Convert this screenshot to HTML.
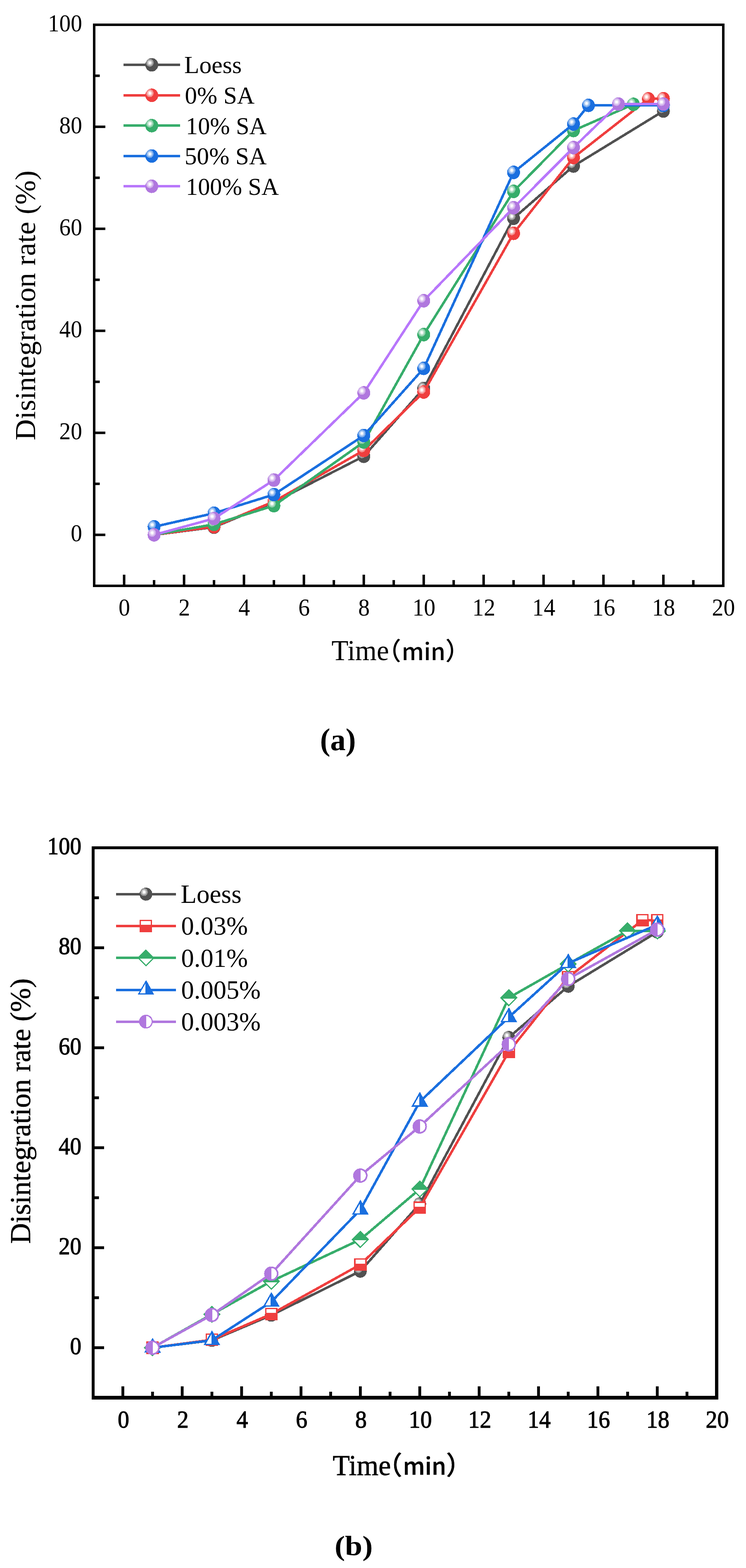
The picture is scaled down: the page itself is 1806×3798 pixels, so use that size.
<!DOCTYPE html><html><head><meta charset="utf-8"><title>Disintegration rate</title>
<style>html,body{margin:0;padding:0;background:#fff;width:1806px;height:3798px;overflow:hidden}svg{display:block}.t{font-family:"Liberation Serif","Times New Roman",serif;fill:#000}.c{font-family:"Noto Sans CJK SC",sans-serif;font-weight:500;fill:#000}</style></head><body>
<svg width="1806" height="3798" viewBox="0 0 1806 3798">
<rect width="1806" height="3798" fill="#fff"/>
<g id="chartA">
<rect x="231" y="1292.5" width="24" height="6" fill="#000"/>
<rect x="231" y="1045.4" width="24" height="6" fill="#000"/>
<rect x="231" y="798.3" width="24" height="6" fill="#000"/>
<rect x="231" y="551.2" width="24" height="6" fill="#000"/>
<rect x="231" y="304.1" width="24" height="6" fill="#000"/>
<rect x="231" y="1168.9" width="10.5" height="6" fill="#000"/>
<rect x="231" y="921.8" width="10.5" height="6" fill="#000"/>
<rect x="231" y="674.7" width="10.5" height="6" fill="#000"/>
<rect x="231" y="427.6" width="10.5" height="6" fill="#000"/>
<rect x="231" y="180.5" width="10.5" height="6" fill="#000"/>
<rect x="297.5" y="1392" width="6" height="24" fill="#000"/>
<rect x="442.6" y="1392" width="6" height="24" fill="#000"/>
<rect x="587.6" y="1392" width="6" height="24" fill="#000"/>
<rect x="732.7" y="1392" width="6" height="24" fill="#000"/>
<rect x="877.7" y="1392" width="6" height="24" fill="#000"/>
<rect x="1022.8" y="1392" width="6" height="24" fill="#000"/>
<rect x="1167.8" y="1392" width="6" height="24" fill="#000"/>
<rect x="1312.9" y="1392" width="6" height="24" fill="#000"/>
<rect x="1457.9" y="1392" width="6" height="24" fill="#000"/>
<rect x="1603.0" y="1392" width="6" height="24" fill="#000"/>
<rect x="1748.0" y="1392" width="6" height="24" fill="#000"/>
<rect x="370.0" y="1405" width="6" height="11" fill="#000"/>
<rect x="515.1" y="1405" width="6" height="11" fill="#000"/>
<rect x="660.1" y="1405" width="6" height="11" fill="#000"/>
<rect x="805.2" y="1405" width="6" height="11" fill="#000"/>
<rect x="950.2" y="1405" width="6" height="11" fill="#000"/>
<rect x="1095.3" y="1405" width="6" height="11" fill="#000"/>
<rect x="1240.3" y="1405" width="6" height="11" fill="#000"/>
<rect x="1385.4" y="1405" width="6" height="11" fill="#000"/>
<rect x="1530.4" y="1405" width="6" height="11" fill="#000"/>
<rect x="1675.5" y="1405" width="6" height="11" fill="#000"/>
<g shape-rendering="crispEdges">
<polyline points="373.0,1295.5 518.1,1276.9 663.1,1216.4 880.7,1105.2 1025.8,940.9 1243.3,528.7 1388.4,402.2 1606.0,269.0" fill="none" stroke="#515151" stroke-width="6" stroke-linejoin="round"/>
<ellipse cx="373.0" cy="1295.5" rx="15.6" ry="16.4" fill="#515151"/><ellipse cx="368.4" cy="1290.5" rx="9.2" ry="9.7" fill="#9a9a9a"/><ellipse cx="368.4" cy="1290.5" rx="6.1" ry="6.5" fill="#cbcbcb"/><ellipse cx="368.4" cy="1290.5" rx="3.2" ry="3.5" fill="#fcfcfc"/>
<ellipse cx="518.1" cy="1276.9" rx="15.6" ry="16.4" fill="#515151"/><ellipse cx="513.5" cy="1271.9" rx="9.2" ry="9.7" fill="#9a9a9a"/><ellipse cx="513.5" cy="1271.9" rx="6.1" ry="6.5" fill="#cbcbcb"/><ellipse cx="513.5" cy="1271.9" rx="3.2" ry="3.5" fill="#fcfcfc"/>
<ellipse cx="663.1" cy="1216.4" rx="15.6" ry="16.4" fill="#515151"/><ellipse cx="658.5" cy="1211.4" rx="9.2" ry="9.7" fill="#9a9a9a"/><ellipse cx="658.5" cy="1211.4" rx="6.1" ry="6.5" fill="#cbcbcb"/><ellipse cx="658.5" cy="1211.4" rx="3.2" ry="3.5" fill="#fcfcfc"/>
<ellipse cx="880.7" cy="1105.2" rx="15.6" ry="16.4" fill="#515151"/><ellipse cx="876.1" cy="1100.2" rx="9.2" ry="9.7" fill="#9a9a9a"/><ellipse cx="876.1" cy="1100.2" rx="6.1" ry="6.5" fill="#cbcbcb"/><ellipse cx="876.1" cy="1100.2" rx="3.2" ry="3.5" fill="#fcfcfc"/>
<ellipse cx="1025.8" cy="940.9" rx="15.6" ry="16.4" fill="#515151"/><ellipse cx="1021.2" cy="935.9" rx="9.2" ry="9.7" fill="#9a9a9a"/><ellipse cx="1021.2" cy="935.9" rx="6.1" ry="6.5" fill="#cbcbcb"/><ellipse cx="1021.2" cy="935.9" rx="3.2" ry="3.5" fill="#fcfcfc"/>
<ellipse cx="1243.3" cy="528.7" rx="15.6" ry="16.4" fill="#515151"/><ellipse cx="1238.7" cy="523.7" rx="9.2" ry="9.7" fill="#9a9a9a"/><ellipse cx="1238.7" cy="523.7" rx="6.1" ry="6.5" fill="#cbcbcb"/><ellipse cx="1238.7" cy="523.7" rx="3.2" ry="3.5" fill="#fcfcfc"/>
<ellipse cx="1388.4" cy="402.2" rx="15.6" ry="16.4" fill="#515151"/><ellipse cx="1383.8" cy="397.2" rx="9.2" ry="9.7" fill="#9a9a9a"/><ellipse cx="1383.8" cy="397.2" rx="6.1" ry="6.5" fill="#cbcbcb"/><ellipse cx="1383.8" cy="397.2" rx="3.2" ry="3.5" fill="#fcfcfc"/>
<ellipse cx="1606.0" cy="269.0" rx="15.6" ry="16.4" fill="#515151"/><ellipse cx="1601.4" cy="264.0" rx="9.2" ry="9.7" fill="#9a9a9a"/><ellipse cx="1601.4" cy="264.0" rx="6.1" ry="6.5" fill="#cbcbcb"/><ellipse cx="1601.4" cy="264.0" rx="3.2" ry="3.5" fill="#fcfcfc"/>
<polyline points="373.0,1295.5 518.1,1275.7 663.1,1214.8 880.7,1091.0 1025.8,949.5 1243.3,565.2 1388.4,381.6 1569.7,239.4 1606.0,239.1" fill="none" stroke="#ef3e3e" stroke-width="6" stroke-linejoin="round"/>
<ellipse cx="373.0" cy="1295.5" rx="15.6" ry="16.4" fill="#ef3e3e"/><ellipse cx="368.4" cy="1290.5" rx="9.2" ry="9.7" fill="#f68f8f"/><ellipse cx="368.4" cy="1290.5" rx="6.1" ry="6.5" fill="#fac5c5"/><ellipse cx="368.4" cy="1290.5" rx="3.2" ry="3.5" fill="#fffbfb"/>
<ellipse cx="518.1" cy="1275.7" rx="15.6" ry="16.4" fill="#ef3e3e"/><ellipse cx="513.5" cy="1270.7" rx="9.2" ry="9.7" fill="#f68f8f"/><ellipse cx="513.5" cy="1270.7" rx="6.1" ry="6.5" fill="#fac5c5"/><ellipse cx="513.5" cy="1270.7" rx="3.2" ry="3.5" fill="#fffbfb"/>
<ellipse cx="663.1" cy="1214.8" rx="15.6" ry="16.4" fill="#ef3e3e"/><ellipse cx="658.5" cy="1209.8" rx="9.2" ry="9.7" fill="#f68f8f"/><ellipse cx="658.5" cy="1209.8" rx="6.1" ry="6.5" fill="#fac5c5"/><ellipse cx="658.5" cy="1209.8" rx="3.2" ry="3.5" fill="#fffbfb"/>
<ellipse cx="880.7" cy="1091.0" rx="15.6" ry="16.4" fill="#ef3e3e"/><ellipse cx="876.1" cy="1086.0" rx="9.2" ry="9.7" fill="#f68f8f"/><ellipse cx="876.1" cy="1086.0" rx="6.1" ry="6.5" fill="#fac5c5"/><ellipse cx="876.1" cy="1086.0" rx="3.2" ry="3.5" fill="#fffbfb"/>
<ellipse cx="1025.8" cy="949.5" rx="15.6" ry="16.4" fill="#ef3e3e"/><ellipse cx="1021.2" cy="944.5" rx="9.2" ry="9.7" fill="#f68f8f"/><ellipse cx="1021.2" cy="944.5" rx="6.1" ry="6.5" fill="#fac5c5"/><ellipse cx="1021.2" cy="944.5" rx="3.2" ry="3.5" fill="#fffbfb"/>
<ellipse cx="1243.3" cy="565.2" rx="15.6" ry="16.4" fill="#ef3e3e"/><ellipse cx="1238.7" cy="560.2" rx="9.2" ry="9.7" fill="#f68f8f"/><ellipse cx="1238.7" cy="560.2" rx="6.1" ry="6.5" fill="#fac5c5"/><ellipse cx="1238.7" cy="560.2" rx="3.2" ry="3.5" fill="#fffbfb"/>
<ellipse cx="1388.4" cy="381.6" rx="15.6" ry="16.4" fill="#ef3e3e"/><ellipse cx="1383.8" cy="376.6" rx="9.2" ry="9.7" fill="#f68f8f"/><ellipse cx="1383.8" cy="376.6" rx="6.1" ry="6.5" fill="#fac5c5"/><ellipse cx="1383.8" cy="376.6" rx="3.2" ry="3.5" fill="#fffbfb"/>
<ellipse cx="1569.7" cy="239.4" rx="15.6" ry="16.4" fill="#ef3e3e"/><ellipse cx="1565.1" cy="234.4" rx="9.2" ry="9.7" fill="#f68f8f"/><ellipse cx="1565.1" cy="234.4" rx="6.1" ry="6.5" fill="#fac5c5"/><ellipse cx="1565.1" cy="234.4" rx="3.2" ry="3.5" fill="#fffbfb"/>
<ellipse cx="1606.0" cy="239.1" rx="15.6" ry="16.4" fill="#ef3e3e"/><ellipse cx="1601.4" cy="234.1" rx="9.2" ry="9.7" fill="#f68f8f"/><ellipse cx="1601.4" cy="234.1" rx="6.1" ry="6.5" fill="#fac5c5"/><ellipse cx="1601.4" cy="234.1" rx="3.2" ry="3.5" fill="#fffbfb"/>
<polyline points="373.0,1295.5 518.1,1270.0 663.1,1224.8 880.7,1070.6 1025.8,810.4 1243.3,463.5 1388.4,316.2 1533.4,252.7" fill="none" stroke="#37ad6b" stroke-width="6" stroke-linejoin="round"/>
<ellipse cx="373.0" cy="1295.5" rx="15.6" ry="16.4" fill="#37ad6b"/><ellipse cx="368.4" cy="1290.5" rx="9.2" ry="9.7" fill="#8bcfa9"/><ellipse cx="368.4" cy="1290.5" rx="6.1" ry="6.5" fill="#c3e6d3"/><ellipse cx="368.4" cy="1290.5" rx="3.2" ry="3.5" fill="#fbfdfc"/>
<ellipse cx="518.1" cy="1270.0" rx="15.6" ry="16.4" fill="#37ad6b"/><ellipse cx="513.5" cy="1265.0" rx="9.2" ry="9.7" fill="#8bcfa9"/><ellipse cx="513.5" cy="1265.0" rx="6.1" ry="6.5" fill="#c3e6d3"/><ellipse cx="513.5" cy="1265.0" rx="3.2" ry="3.5" fill="#fbfdfc"/>
<ellipse cx="663.1" cy="1224.8" rx="15.6" ry="16.4" fill="#37ad6b"/><ellipse cx="658.5" cy="1219.8" rx="9.2" ry="9.7" fill="#8bcfa9"/><ellipse cx="658.5" cy="1219.8" rx="6.1" ry="6.5" fill="#c3e6d3"/><ellipse cx="658.5" cy="1219.8" rx="3.2" ry="3.5" fill="#fbfdfc"/>
<ellipse cx="880.7" cy="1070.6" rx="15.6" ry="16.4" fill="#37ad6b"/><ellipse cx="876.1" cy="1065.6" rx="9.2" ry="9.7" fill="#8bcfa9"/><ellipse cx="876.1" cy="1065.6" rx="6.1" ry="6.5" fill="#c3e6d3"/><ellipse cx="876.1" cy="1065.6" rx="3.2" ry="3.5" fill="#fbfdfc"/>
<ellipse cx="1025.8" cy="810.4" rx="15.6" ry="16.4" fill="#37ad6b"/><ellipse cx="1021.2" cy="805.4" rx="9.2" ry="9.7" fill="#8bcfa9"/><ellipse cx="1021.2" cy="805.4" rx="6.1" ry="6.5" fill="#c3e6d3"/><ellipse cx="1021.2" cy="805.4" rx="3.2" ry="3.5" fill="#fbfdfc"/>
<ellipse cx="1243.3" cy="463.5" rx="15.6" ry="16.4" fill="#37ad6b"/><ellipse cx="1238.7" cy="458.5" rx="9.2" ry="9.7" fill="#8bcfa9"/><ellipse cx="1238.7" cy="458.5" rx="6.1" ry="6.5" fill="#c3e6d3"/><ellipse cx="1238.7" cy="458.5" rx="3.2" ry="3.5" fill="#fbfdfc"/>
<ellipse cx="1388.4" cy="316.2" rx="15.6" ry="16.4" fill="#37ad6b"/><ellipse cx="1383.8" cy="311.2" rx="9.2" ry="9.7" fill="#8bcfa9"/><ellipse cx="1383.8" cy="311.2" rx="6.1" ry="6.5" fill="#c3e6d3"/><ellipse cx="1383.8" cy="311.2" rx="3.2" ry="3.5" fill="#fbfdfc"/>
<ellipse cx="1533.4" cy="252.7" rx="15.6" ry="16.4" fill="#37ad6b"/><ellipse cx="1528.8" cy="247.7" rx="9.2" ry="9.7" fill="#8bcfa9"/><ellipse cx="1528.8" cy="247.7" rx="6.1" ry="6.5" fill="#c3e6d3"/><ellipse cx="1528.8" cy="247.7" rx="3.2" ry="3.5" fill="#fbfdfc"/>
<polyline points="373.0,1275.9 518.1,1243.1 663.1,1197.9 880.7,1054.9 1025.8,892.2 1243.3,417.5 1388.4,300.4 1424.6,255.2 1606.0,255.2" fill="none" stroke="#1a6fdf" stroke-width="6" stroke-linejoin="round"/>
<ellipse cx="373.0" cy="1275.9" rx="15.6" ry="16.4" fill="#1a6fdf"/><ellipse cx="368.4" cy="1270.9" rx="9.2" ry="9.7" fill="#7aabec"/><ellipse cx="368.4" cy="1270.9" rx="6.1" ry="6.5" fill="#bad4f5"/><ellipse cx="368.4" cy="1270.9" rx="3.2" ry="3.5" fill="#fafcfe"/>
<ellipse cx="518.1" cy="1243.1" rx="15.6" ry="16.4" fill="#1a6fdf"/><ellipse cx="513.5" cy="1238.1" rx="9.2" ry="9.7" fill="#7aabec"/><ellipse cx="513.5" cy="1238.1" rx="6.1" ry="6.5" fill="#bad4f5"/><ellipse cx="513.5" cy="1238.1" rx="3.2" ry="3.5" fill="#fafcfe"/>
<ellipse cx="663.1" cy="1197.9" rx="15.6" ry="16.4" fill="#1a6fdf"/><ellipse cx="658.5" cy="1192.9" rx="9.2" ry="9.7" fill="#7aabec"/><ellipse cx="658.5" cy="1192.9" rx="6.1" ry="6.5" fill="#bad4f5"/><ellipse cx="658.5" cy="1192.9" rx="3.2" ry="3.5" fill="#fafcfe"/>
<ellipse cx="880.7" cy="1054.9" rx="15.6" ry="16.4" fill="#1a6fdf"/><ellipse cx="876.1" cy="1049.9" rx="9.2" ry="9.7" fill="#7aabec"/><ellipse cx="876.1" cy="1049.9" rx="6.1" ry="6.5" fill="#bad4f5"/><ellipse cx="876.1" cy="1049.9" rx="3.2" ry="3.5" fill="#fafcfe"/>
<ellipse cx="1025.8" cy="892.2" rx="15.6" ry="16.4" fill="#1a6fdf"/><ellipse cx="1021.2" cy="887.2" rx="9.2" ry="9.7" fill="#7aabec"/><ellipse cx="1021.2" cy="887.2" rx="6.1" ry="6.5" fill="#bad4f5"/><ellipse cx="1021.2" cy="887.2" rx="3.2" ry="3.5" fill="#fafcfe"/>
<ellipse cx="1243.3" cy="417.5" rx="15.6" ry="16.4" fill="#1a6fdf"/><ellipse cx="1238.7" cy="412.5" rx="9.2" ry="9.7" fill="#7aabec"/><ellipse cx="1238.7" cy="412.5" rx="6.1" ry="6.5" fill="#bad4f5"/><ellipse cx="1238.7" cy="412.5" rx="3.2" ry="3.5" fill="#fafcfe"/>
<ellipse cx="1388.4" cy="300.4" rx="15.6" ry="16.4" fill="#1a6fdf"/><ellipse cx="1383.8" cy="295.4" rx="9.2" ry="9.7" fill="#7aabec"/><ellipse cx="1383.8" cy="295.4" rx="6.1" ry="6.5" fill="#bad4f5"/><ellipse cx="1383.8" cy="295.4" rx="3.2" ry="3.5" fill="#fafcfe"/>
<ellipse cx="1424.6" cy="255.2" rx="15.6" ry="16.4" fill="#1a6fdf"/><ellipse cx="1420.0" cy="250.2" rx="9.2" ry="9.7" fill="#7aabec"/><ellipse cx="1420.0" cy="250.2" rx="6.1" ry="6.5" fill="#bad4f5"/><ellipse cx="1420.0" cy="250.2" rx="3.2" ry="3.5" fill="#fafcfe"/>
<ellipse cx="1606.0" cy="255.2" rx="15.6" ry="16.4" fill="#1a6fdf"/><ellipse cx="1601.4" cy="250.2" rx="9.2" ry="9.7" fill="#7aabec"/><ellipse cx="1601.4" cy="250.2" rx="6.1" ry="6.5" fill="#bad4f5"/><ellipse cx="1601.4" cy="250.2" rx="3.2" ry="3.5" fill="#fafcfe"/>
<polyline points="373.0,1295.5 518.1,1255.9 663.1,1162.8 880.7,951.6 1025.8,728.4 1243.3,503.2 1388.4,357.4 1497.2,252.0 1606.0,252.0" fill="none" stroke="#b877fb" stroke-width="6" stroke-linejoin="round"/>
<ellipse cx="373.0" cy="1295.5" rx="15.6" ry="16.4" fill="#b077de"/><ellipse cx="368.4" cy="1290.5" rx="9.2" ry="9.7" fill="#d1b0ec"/><ellipse cx="368.4" cy="1290.5" rx="6.1" ry="6.5" fill="#e7d6f5"/><ellipse cx="368.4" cy="1290.5" rx="3.2" ry="3.5" fill="#fdfcfe"/>
<ellipse cx="518.1" cy="1255.9" rx="15.6" ry="16.4" fill="#b077de"/><ellipse cx="513.5" cy="1250.9" rx="9.2" ry="9.7" fill="#d1b0ec"/><ellipse cx="513.5" cy="1250.9" rx="6.1" ry="6.5" fill="#e7d6f5"/><ellipse cx="513.5" cy="1250.9" rx="3.2" ry="3.5" fill="#fdfcfe"/>
<ellipse cx="663.1" cy="1162.8" rx="15.6" ry="16.4" fill="#b077de"/><ellipse cx="658.5" cy="1157.8" rx="9.2" ry="9.7" fill="#d1b0ec"/><ellipse cx="658.5" cy="1157.8" rx="6.1" ry="6.5" fill="#e7d6f5"/><ellipse cx="658.5" cy="1157.8" rx="3.2" ry="3.5" fill="#fdfcfe"/>
<ellipse cx="880.7" cy="951.6" rx="15.6" ry="16.4" fill="#b077de"/><ellipse cx="876.1" cy="946.6" rx="9.2" ry="9.7" fill="#d1b0ec"/><ellipse cx="876.1" cy="946.6" rx="6.1" ry="6.5" fill="#e7d6f5"/><ellipse cx="876.1" cy="946.6" rx="3.2" ry="3.5" fill="#fdfcfe"/>
<ellipse cx="1025.8" cy="728.4" rx="15.6" ry="16.4" fill="#b077de"/><ellipse cx="1021.2" cy="723.4" rx="9.2" ry="9.7" fill="#d1b0ec"/><ellipse cx="1021.2" cy="723.4" rx="6.1" ry="6.5" fill="#e7d6f5"/><ellipse cx="1021.2" cy="723.4" rx="3.2" ry="3.5" fill="#fdfcfe"/>
<ellipse cx="1243.3" cy="503.2" rx="15.6" ry="16.4" fill="#b077de"/><ellipse cx="1238.7" cy="498.2" rx="9.2" ry="9.7" fill="#d1b0ec"/><ellipse cx="1238.7" cy="498.2" rx="6.1" ry="6.5" fill="#e7d6f5"/><ellipse cx="1238.7" cy="498.2" rx="3.2" ry="3.5" fill="#fdfcfe"/>
<ellipse cx="1388.4" cy="357.4" rx="15.6" ry="16.4" fill="#b077de"/><ellipse cx="1383.8" cy="352.4" rx="9.2" ry="9.7" fill="#d1b0ec"/><ellipse cx="1383.8" cy="352.4" rx="6.1" ry="6.5" fill="#e7d6f5"/><ellipse cx="1383.8" cy="352.4" rx="3.2" ry="3.5" fill="#fdfcfe"/>
<ellipse cx="1497.2" cy="252.0" rx="15.6" ry="16.4" fill="#b077de"/><ellipse cx="1492.6" cy="247.0" rx="9.2" ry="9.7" fill="#d1b0ec"/><ellipse cx="1492.6" cy="247.0" rx="6.1" ry="6.5" fill="#e7d6f5"/><ellipse cx="1492.6" cy="247.0" rx="3.2" ry="3.5" fill="#fdfcfe"/>
<ellipse cx="1606.0" cy="252.0" rx="15.6" ry="16.4" fill="#b077de"/><ellipse cx="1601.4" cy="247.0" rx="9.2" ry="9.7" fill="#d1b0ec"/><ellipse cx="1601.4" cy="247.0" rx="6.1" ry="6.5" fill="#e7d6f5"/><ellipse cx="1601.4" cy="247.0" rx="3.2" ry="3.5" fill="#fdfcfe"/>
</g>
<rect x="228" y="60" width="1523" height="1359" fill="none" stroke="#000" stroke-width="6"/>
<text class="t" transform="translate(198.8,1311.0) scale(0.92,1)" font-size="60" text-anchor="end">0</text>
<text class="t" transform="translate(198.8,1063.9) scale(0.92,1)" font-size="60" text-anchor="end">20</text>
<text class="t" transform="translate(198.8,816.8) scale(0.92,1)" font-size="60" text-anchor="end">40</text>
<text class="t" transform="translate(198.8,569.7) scale(0.92,1)" font-size="60" text-anchor="end">60</text>
<text class="t" transform="translate(198.8,322.6) scale(0.92,1)" font-size="60" text-anchor="end">80</text>
<text class="t" transform="translate(198.8,75.5) scale(0.92,1)" font-size="60" text-anchor="end">100</text>
<text class="t" transform="translate(301.0,1490.5) scale(0.93,1)" font-size="60" text-anchor="middle">0</text>
<text class="t" transform="translate(446.1,1490.5) scale(0.93,1)" font-size="60" text-anchor="middle">2</text>
<text class="t" transform="translate(591.1,1490.5) scale(0.93,1)" font-size="60" text-anchor="middle">4</text>
<text class="t" transform="translate(736.2,1490.5) scale(0.93,1)" font-size="60" text-anchor="middle">6</text>
<text class="t" transform="translate(881.2,1490.5) scale(0.93,1)" font-size="60" text-anchor="middle">8</text>
<text class="t" transform="translate(1026.3,1490.5) scale(0.93,1)" font-size="60" text-anchor="middle">10</text>
<text class="t" transform="translate(1171.3,1490.5) scale(0.93,1)" font-size="60" text-anchor="middle">12</text>
<text class="t" transform="translate(1316.4,1490.5) scale(0.93,1)" font-size="60" text-anchor="middle">14</text>
<text class="t" transform="translate(1461.4,1490.5) scale(0.93,1)" font-size="60" text-anchor="middle">16</text>
<text class="t" transform="translate(1606.5,1490.5) scale(0.93,1)" font-size="60" text-anchor="middle">18</text>
<text class="t" transform="translate(1751.5,1490.5) scale(0.93,1)" font-size="60" text-anchor="middle">20</text>
<g shape-rendering="crispEdges">
<rect x="298.5" y="154.0" width="137.5" height="6" fill="#515151"/>
<ellipse cx="367.4" cy="157.0" rx="15.6" ry="16.4" fill="#515151"/><ellipse cx="362.8" cy="152.0" rx="9.2" ry="9.7" fill="#9a9a9a"/><ellipse cx="362.8" cy="152.0" rx="6.1" ry="6.5" fill="#cbcbcb"/><ellipse cx="362.8" cy="152.0" rx="3.2" ry="3.5" fill="#fcfcfc"/>
</g>
<text class="t" transform="translate(446.1,177.3) scale(0.994,1)" font-size="60">Loess</text>
<g shape-rendering="crispEdges">
<rect x="298.5" y="227.8" width="137.5" height="6" fill="#ef3e3e"/>
<ellipse cx="367.4" cy="230.8" rx="15.6" ry="16.4" fill="#ef3e3e"/><ellipse cx="362.8" cy="225.8" rx="9.2" ry="9.7" fill="#f68f8f"/><ellipse cx="362.8" cy="225.8" rx="6.1" ry="6.5" fill="#fac5c5"/><ellipse cx="362.8" cy="225.8" rx="3.2" ry="3.5" fill="#fffbfb"/>
</g>
<text class="t" transform="translate(447.6,251.1) scale(0.983,1)" font-size="60">0% SA</text>
<g shape-rendering="crispEdges">
<rect x="298.5" y="301.3" width="137.5" height="6" fill="#37ad6b"/>
<ellipse cx="367.4" cy="304.3" rx="15.6" ry="16.4" fill="#37ad6b"/><ellipse cx="362.8" cy="299.3" rx="9.2" ry="9.7" fill="#8bcfa9"/><ellipse cx="362.8" cy="299.3" rx="6.1" ry="6.5" fill="#c3e6d3"/><ellipse cx="362.8" cy="299.3" rx="3.2" ry="3.5" fill="#fbfdfc"/>
</g>
<text class="t" transform="translate(450.1,324.6) scale(0.969,1)" font-size="60">10% SA</text>
<g shape-rendering="crispEdges">
<rect x="298.5" y="374.9" width="137.5" height="6" fill="#1a6fdf"/>
<ellipse cx="367.4" cy="377.9" rx="15.6" ry="16.4" fill="#1a6fdf"/><ellipse cx="362.8" cy="372.9" rx="9.2" ry="9.7" fill="#7aabec"/><ellipse cx="362.8" cy="372.9" rx="6.1" ry="6.5" fill="#bad4f5"/><ellipse cx="362.8" cy="372.9" rx="3.2" ry="3.5" fill="#fafcfe"/>
</g>
<text class="t" transform="translate(447.1,398.2) scale(0.984,1)" font-size="60">50% SA</text>
<g shape-rendering="crispEdges">
<rect x="298.5" y="448.2" width="137.5" height="6" fill="#b877fb"/>
<ellipse cx="367.4" cy="451.2" rx="15.6" ry="16.4" fill="#b077de"/><ellipse cx="362.8" cy="446.2" rx="9.2" ry="9.7" fill="#d1b0ec"/><ellipse cx="362.8" cy="446.2" rx="6.1" ry="6.5" fill="#e7d6f5"/><ellipse cx="362.8" cy="446.2" rx="3.2" ry="3.5" fill="#fdfcfe"/>
</g>
<text class="t" transform="translate(450.0,471.5) scale(0.972,1)" font-size="60">100% SA</text>
<text class="t" transform="translate(84.8,1066.6) rotate(-90)" font-size="70" textLength="653.6" lengthAdjust="spacingAndGlyphs">Disintegration rate (%)</text>
<text class="t" transform="translate(802.6,1599) scale(0.971,1)" font-size="69">Time</text>
<text class="c" x="911.2" y="1599" font-size="60" font-weight="400">（</text>
<text class="c" x="972.5" y="1598.5" font-size="57">min</text>
<text class="c" x="1078" y="1599" font-size="60" font-weight="400">）</text>
<text class="t" x="774.8" y="1817" font-size="77" font-weight="bold" textLength="86.8" lengthAdjust="spacingAndGlyphs">(a)</text>
</g>
<g id="chartB">
<rect x="229" y="3261.0" width="23" height="6.8" fill="#000"/>
<rect x="229" y="3018.8" width="23" height="6.8" fill="#000"/>
<rect x="229" y="2776.6" width="23" height="6.8" fill="#000"/>
<rect x="229" y="2534.5" width="23" height="6.8" fill="#000"/>
<rect x="229" y="2292.3" width="23" height="6.8" fill="#000"/>
<rect x="229" y="3139.9" width="10.5" height="6.8" fill="#000"/>
<rect x="229" y="2897.7" width="10.5" height="6.8" fill="#000"/>
<rect x="229" y="2655.6" width="10.5" height="6.8" fill="#000"/>
<rect x="229" y="2413.4" width="10.5" height="6.8" fill="#000"/>
<rect x="229" y="2171.2" width="10.5" height="6.8" fill="#000"/>
<rect x="294.0" y="3358" width="6.8" height="23" fill="#000"/>
<rect x="437.7" y="3358" width="6.8" height="23" fill="#000"/>
<rect x="581.5" y="3358" width="6.8" height="23" fill="#000"/>
<rect x="725.3" y="3358" width="6.8" height="23" fill="#000"/>
<rect x="869.0" y="3358" width="6.8" height="23" fill="#000"/>
<rect x="1012.8" y="3358" width="6.8" height="23" fill="#000"/>
<rect x="1156.6" y="3358" width="6.8" height="23" fill="#000"/>
<rect x="1300.3" y="3358" width="6.8" height="23" fill="#000"/>
<rect x="1444.1" y="3358" width="6.8" height="23" fill="#000"/>
<rect x="1587.8" y="3358" width="6.8" height="23" fill="#000"/>
<rect x="1731.6" y="3358" width="6.8" height="23" fill="#000"/>
<rect x="365.9" y="3371" width="6.8" height="10" fill="#000"/>
<rect x="509.6" y="3371" width="6.8" height="10" fill="#000"/>
<rect x="653.4" y="3371" width="6.8" height="10" fill="#000"/>
<rect x="797.1" y="3371" width="6.8" height="10" fill="#000"/>
<rect x="940.9" y="3371" width="6.8" height="10" fill="#000"/>
<rect x="1084.7" y="3371" width="6.8" height="10" fill="#000"/>
<rect x="1228.4" y="3371" width="6.8" height="10" fill="#000"/>
<rect x="1372.2" y="3371" width="6.8" height="10" fill="#000"/>
<rect x="1516.0" y="3371" width="6.8" height="10" fill="#000"/>
<rect x="1659.7" y="3371" width="6.8" height="10" fill="#000"/>
<g shape-rendering="crispEdges">
<polyline points="369.3,3264.4 513.0,3246.7 656.8,3185.7 872.4,3079.0 1016.2,2916.0 1231.8,2512.9 1375.6,2388.9 1591.2,2257.4" fill="none" stroke="#515151" stroke-width="6" stroke-linejoin="round"/>
<ellipse cx="369.3" cy="3264.4" rx="15.5" ry="15.8" fill="#515151"/><ellipse cx="364.7" cy="3259.4" rx="9.2" ry="9.7" fill="#9a9a9a"/><ellipse cx="364.7" cy="3259.4" rx="6.1" ry="6.5" fill="#cbcbcb"/><ellipse cx="364.7" cy="3259.4" rx="3.2" ry="3.5" fill="#fcfcfc"/>
<ellipse cx="513.0" cy="3246.7" rx="15.5" ry="15.8" fill="#515151"/><ellipse cx="508.4" cy="3241.7" rx="9.2" ry="9.7" fill="#9a9a9a"/><ellipse cx="508.4" cy="3241.7" rx="6.1" ry="6.5" fill="#cbcbcb"/><ellipse cx="508.4" cy="3241.7" rx="3.2" ry="3.5" fill="#fcfcfc"/>
<ellipse cx="656.8" cy="3185.7" rx="15.5" ry="15.8" fill="#515151"/><ellipse cx="652.2" cy="3180.7" rx="9.2" ry="9.7" fill="#9a9a9a"/><ellipse cx="652.2" cy="3180.7" rx="6.1" ry="6.5" fill="#cbcbcb"/><ellipse cx="652.2" cy="3180.7" rx="3.2" ry="3.5" fill="#fcfcfc"/>
<ellipse cx="872.4" cy="3079.0" rx="15.5" ry="15.8" fill="#515151"/><ellipse cx="867.8" cy="3074.0" rx="9.2" ry="9.7" fill="#9a9a9a"/><ellipse cx="867.8" cy="3074.0" rx="6.1" ry="6.5" fill="#cbcbcb"/><ellipse cx="867.8" cy="3074.0" rx="3.2" ry="3.5" fill="#fcfcfc"/>
<ellipse cx="1016.2" cy="2916.0" rx="15.5" ry="15.8" fill="#515151"/><ellipse cx="1011.6" cy="2911.0" rx="9.2" ry="9.7" fill="#9a9a9a"/><ellipse cx="1011.6" cy="2911.0" rx="6.1" ry="6.5" fill="#cbcbcb"/><ellipse cx="1011.6" cy="2911.0" rx="3.2" ry="3.5" fill="#fcfcfc"/>
<ellipse cx="1231.8" cy="2512.9" rx="15.5" ry="15.8" fill="#515151"/><ellipse cx="1227.2" cy="2507.9" rx="9.2" ry="9.7" fill="#9a9a9a"/><ellipse cx="1227.2" cy="2507.9" rx="6.1" ry="6.5" fill="#cbcbcb"/><ellipse cx="1227.2" cy="2507.9" rx="3.2" ry="3.5" fill="#fcfcfc"/>
<ellipse cx="1375.6" cy="2388.9" rx="15.5" ry="15.8" fill="#515151"/><ellipse cx="1371.0" cy="2383.9" rx="9.2" ry="9.7" fill="#9a9a9a"/><ellipse cx="1371.0" cy="2383.9" rx="6.1" ry="6.5" fill="#cbcbcb"/><ellipse cx="1371.0" cy="2383.9" rx="3.2" ry="3.5" fill="#fcfcfc"/>
<ellipse cx="1591.2" cy="2257.4" rx="15.5" ry="15.8" fill="#515151"/><ellipse cx="1586.6" cy="2252.4" rx="9.2" ry="9.7" fill="#9a9a9a"/><ellipse cx="1586.6" cy="2252.4" rx="6.1" ry="6.5" fill="#cbcbcb"/><ellipse cx="1586.6" cy="2252.4" rx="3.2" ry="3.5" fill="#fcfcfc"/>
<polyline points="369.3,3264.4 513.0,3245.2 656.8,3182.9 872.4,3063.0 1016.2,2925.2 1231.8,2547.7 1375.6,2367.1 1555.3,2229.1 1591.2,2229.1" fill="none" stroke="#ef3e3e" stroke-width="6" stroke-linejoin="round"/>
<rect x="355.8" y="3251.0" width="26.9" height="26.9" fill="#fff" stroke="#ef3e3e" stroke-width="3.5"/><rect x="354.1" y="3261.9" width="30.4" height="17.7" fill="#ef3e3e"/>
<rect x="499.6" y="3231.7" width="26.9" height="26.9" fill="#fff" stroke="#ef3e3e" stroke-width="3.5"/><rect x="497.8" y="3242.7" width="30.4" height="17.7" fill="#ef3e3e"/>
<rect x="643.3" y="3169.5" width="26.9" height="26.9" fill="#fff" stroke="#ef3e3e" stroke-width="3.5"/><rect x="641.6" y="3180.4" width="30.4" height="17.7" fill="#ef3e3e"/>
<rect x="859.0" y="3049.6" width="26.9" height="26.9" fill="#fff" stroke="#ef3e3e" stroke-width="3.5"/><rect x="857.2" y="3060.5" width="30.4" height="17.7" fill="#ef3e3e"/>
<rect x="1002.7" y="2911.8" width="26.9" height="26.9" fill="#fff" stroke="#ef3e3e" stroke-width="3.5"/><rect x="1001.0" y="2922.7" width="30.4" height="17.7" fill="#ef3e3e"/>
<rect x="1218.4" y="2534.2" width="26.9" height="26.9" fill="#fff" stroke="#ef3e3e" stroke-width="3.5"/><rect x="1216.6" y="2545.2" width="30.4" height="17.7" fill="#ef3e3e"/>
<rect x="1362.1" y="2353.7" width="26.9" height="26.9" fill="#fff" stroke="#ef3e3e" stroke-width="3.5"/><rect x="1360.4" y="2364.6" width="30.4" height="17.7" fill="#ef3e3e"/>
<rect x="1541.8" y="2215.6" width="26.9" height="26.9" fill="#fff" stroke="#ef3e3e" stroke-width="3.5"/><rect x="1540.1" y="2226.6" width="30.4" height="17.7" fill="#ef3e3e"/>
<rect x="1577.8" y="2215.6" width="26.9" height="26.9" fill="#fff" stroke="#ef3e3e" stroke-width="3.5"/><rect x="1576.0" y="2226.6" width="30.4" height="17.7" fill="#ef3e3e"/>
<polyline points="369.3,3264.4 513.0,3183.5 656.8,3103.5 872.4,3002.4 1016.2,2880.1 1231.8,2416.8 1375.6,2335.0 1519.4,2254.6 1591.2,2255.1" fill="none" stroke="#37ad6b" stroke-width="6" stroke-linejoin="round"/>
<path d="M369.3 3245.5L388.2 3264.4L369.3 3283.3L350.4 3264.4Z" fill="#fff" stroke="#37ad6b" stroke-width="3"/><path d="M369.3 3243.4L390.3 3264.4L388.3 3266.4L350.2 3266.4L348.2 3264.4Z" fill="#37ad6b"/>
<path d="M513.0 3164.6L531.9 3183.5L513.0 3202.4L494.1 3183.5Z" fill="#fff" stroke="#37ad6b" stroke-width="3"/><path d="M513.0 3162.5L534.0 3183.5L532.0 3185.5L494.0 3185.5L492.0 3183.5Z" fill="#37ad6b"/>
<path d="M656.8 3084.6L675.7 3103.5L656.8 3122.4L637.9 3103.5Z" fill="#fff" stroke="#37ad6b" stroke-width="3"/><path d="M656.8 3082.5L677.8 3103.5L675.8 3105.5L637.8 3105.5L635.8 3103.5Z" fill="#37ad6b"/>
<path d="M872.4 2983.5L891.3 3002.4L872.4 3021.3L853.5 3002.4Z" fill="#fff" stroke="#37ad6b" stroke-width="3"/><path d="M872.4 2981.3L893.4 3002.4L891.4 3004.4L853.4 3004.4L851.4 3002.4Z" fill="#37ad6b"/>
<path d="M1016.2 2861.2L1035.1 2880.1L1016.2 2899.0L997.3 2880.1Z" fill="#fff" stroke="#37ad6b" stroke-width="3"/><path d="M1016.2 2859.0L1037.2 2880.1L1035.2 2882.1L997.2 2882.1L995.2 2880.1Z" fill="#37ad6b"/>
<path d="M1231.8 2397.9L1250.7 2416.8L1231.8 2435.7L1212.9 2416.8Z" fill="#fff" stroke="#37ad6b" stroke-width="3"/><path d="M1231.8 2395.8L1252.9 2416.8L1250.9 2418.8L1212.8 2418.8L1210.8 2416.8Z" fill="#37ad6b"/>
<path d="M1375.6 2316.1L1394.5 2335.0L1375.6 2353.9L1356.7 2335.0Z" fill="#fff" stroke="#37ad6b" stroke-width="3"/><path d="M1375.6 2314.0L1396.6 2335.0L1394.6 2337.0L1356.6 2337.0L1354.6 2335.0Z" fill="#37ad6b"/>
<path d="M1519.4 2235.7L1538.3 2254.6L1519.4 2273.5L1500.5 2254.6Z" fill="#fff" stroke="#37ad6b" stroke-width="3"/><path d="M1519.4 2233.6L1540.4 2254.6L1538.4 2256.6L1500.3 2256.6L1498.3 2254.6Z" fill="#37ad6b"/>
<path d="M1591.2 2236.2L1610.1 2255.1L1591.2 2274.0L1572.3 2255.1Z" fill="#fff" stroke="#37ad6b" stroke-width="3"/><path d="M1591.2 2234.1L1612.3 2255.1L1610.3 2257.1L1572.2 2257.1L1570.2 2255.1Z" fill="#37ad6b"/>
<polyline points="369.3,3264.4 513.0,3246.4 656.8,3153.4 872.4,2930.0 1016.2,2668.6 1231.8,2464.0 1375.6,2333.2 1591.2,2240.0" fill="none" stroke="#1a6fdf" stroke-width="6" stroke-linejoin="round"/>
<path d="M369.3 3244.1L386.7 3274.7L351.9 3274.7Z" fill="#fff" stroke="#1a6fdf" stroke-width="3.5" stroke-linejoin="miter"/><path d="M367.8 3243.1L370.3 3241.6L389.5 3276.5L367.8 3276.5Z" fill="#1a6fdf"/>
<path d="M513.0 3226.1L530.4 3256.7L495.6 3256.7Z" fill="#fff" stroke="#1a6fdf" stroke-width="3.5" stroke-linejoin="miter"/><path d="M511.5 3225.1L514.0 3223.6L533.2 3258.4L511.5 3258.4Z" fill="#1a6fdf"/>
<path d="M656.8 3133.1L674.2 3163.7L639.4 3163.7Z" fill="#fff" stroke="#1a6fdf" stroke-width="3.5" stroke-linejoin="miter"/><path d="M655.3 3132.1L657.8 3130.6L677.0 3165.4L655.3 3165.4Z" fill="#1a6fdf"/>
<path d="M872.4 2909.7L889.8 2940.3L855.0 2940.3Z" fill="#fff" stroke="#1a6fdf" stroke-width="3.5" stroke-linejoin="miter"/><path d="M870.9 2908.7L873.4 2907.2L892.6 2942.0L870.9 2942.0Z" fill="#1a6fdf"/>
<path d="M1016.2 2648.3L1033.6 2678.9L998.8 2678.9Z" fill="#fff" stroke="#1a6fdf" stroke-width="3.5" stroke-linejoin="miter"/><path d="M1014.7 2647.3L1017.2 2645.8L1036.4 2680.7L1014.7 2680.7Z" fill="#1a6fdf"/>
<path d="M1231.8 2443.7L1249.2 2474.3L1214.4 2474.3Z" fill="#fff" stroke="#1a6fdf" stroke-width="3.5" stroke-linejoin="miter"/><path d="M1230.3 2442.7L1232.8 2441.2L1252.0 2476.0L1230.3 2476.0Z" fill="#1a6fdf"/>
<path d="M1375.6 2312.9L1393.0 2343.5L1358.2 2343.5Z" fill="#fff" stroke="#1a6fdf" stroke-width="3.5" stroke-linejoin="miter"/><path d="M1374.1 2311.9L1376.6 2310.4L1395.8 2345.3L1374.1 2345.3Z" fill="#1a6fdf"/>
<path d="M1591.2 2219.7L1608.6 2250.3L1573.8 2250.3Z" fill="#fff" stroke="#1a6fdf" stroke-width="3.5" stroke-linejoin="miter"/><path d="M1589.7 2218.7L1592.2 2217.2L1611.4 2252.0L1589.7 2252.0Z" fill="#1a6fdf"/>
<polyline points="369.3,3264.4 513.0,3185.0 656.8,3085.0 872.4,2847.5 1016.2,2728.5 1231.8,2529.5 1375.6,2371.1 1591.2,2251.7" fill="none" stroke="#b077de" stroke-width="6" stroke-linejoin="round"/>
<circle cx="369.3" cy="3264.4" r="15.40" fill="#fff" stroke="#b077de" stroke-width="4"/><path d="M369.8 3247.0A17.4 17.4 0 0 0 369.8 3281.8Z" fill="#b077de"/>
<circle cx="513.0" cy="3185.0" r="15.40" fill="#fff" stroke="#b077de" stroke-width="4"/><path d="M513.5 3167.6A17.4 17.4 0 0 0 513.5 3202.4Z" fill="#b077de"/>
<circle cx="656.8" cy="3085.0" r="15.40" fill="#fff" stroke="#b077de" stroke-width="4"/><path d="M657.3 3067.6A17.4 17.4 0 0 0 657.3 3102.4Z" fill="#b077de"/>
<circle cx="872.4" cy="2847.5" r="15.40" fill="#fff" stroke="#b077de" stroke-width="4"/><path d="M872.9 2830.1A17.4 17.4 0 0 0 872.9 2864.9Z" fill="#b077de"/>
<circle cx="1016.2" cy="2728.5" r="15.40" fill="#fff" stroke="#b077de" stroke-width="4"/><path d="M1016.7 2711.1A17.4 17.4 0 0 0 1016.7 2745.9Z" fill="#b077de"/>
<circle cx="1231.8" cy="2529.5" r="15.40" fill="#fff" stroke="#b077de" stroke-width="4"/><path d="M1232.3 2512.1A17.4 17.4 0 0 0 1232.3 2546.9Z" fill="#b077de"/>
<circle cx="1375.6" cy="2371.1" r="15.40" fill="#fff" stroke="#b077de" stroke-width="4"/><path d="M1376.1 2353.7A17.4 17.4 0 0 0 1376.1 2388.5Z" fill="#b077de"/>
<circle cx="1591.2" cy="2251.7" r="15.40" fill="#fff" stroke="#b077de" stroke-width="4"/><path d="M1591.7 2234.3A17.4 17.4 0 0 0 1591.7 2269.1Z" fill="#b077de"/>
</g>
<rect x="222" y="2050" width="7" height="1340" fill="#000"/>
<rect x="222" y="2050" width="1517" height="7" fill="#000"/>
<rect x="1731" y="2050" width="8" height="1340" fill="#000"/>
<rect x="222" y="3381" width="1517" height="9" fill="#000"/>
<text class="t" transform="translate(197.2,3280.1) scale(0.92,1)" font-size="60" text-anchor="end" stroke="#000" stroke-width="1.3">0</text>
<text class="t" transform="translate(197.2,3037.9) scale(0.92,1)" font-size="60" text-anchor="end" stroke="#000" stroke-width="1.3">20</text>
<text class="t" transform="translate(197.2,2795.7) scale(0.92,1)" font-size="60" text-anchor="end" stroke="#000" stroke-width="1.3">40</text>
<text class="t" transform="translate(197.2,2553.6) scale(0.92,1)" font-size="60" text-anchor="end" stroke="#000" stroke-width="1.3">60</text>
<text class="t" transform="translate(197.2,2311.4) scale(0.92,1)" font-size="60" text-anchor="end" stroke="#000" stroke-width="1.3">80</text>
<text class="t" transform="translate(197.2,2069.2) scale(0.92,1)" font-size="60" text-anchor="end" stroke="#000" stroke-width="1.3">100</text>
<text class="t" transform="translate(298.9,3457.5) scale(0.93,1)" font-size="60" text-anchor="middle" stroke="#000" stroke-width="1.3">0</text>
<text class="t" transform="translate(442.6,3457.5) scale(0.93,1)" font-size="60" text-anchor="middle" stroke="#000" stroke-width="1.3">2</text>
<text class="t" transform="translate(586.4,3457.5) scale(0.93,1)" font-size="60" text-anchor="middle" stroke="#000" stroke-width="1.3">4</text>
<text class="t" transform="translate(730.2,3457.5) scale(0.93,1)" font-size="60" text-anchor="middle" stroke="#000" stroke-width="1.3">6</text>
<text class="t" transform="translate(873.9,3457.5) scale(0.93,1)" font-size="60" text-anchor="middle" stroke="#000" stroke-width="1.3">8</text>
<text class="t" transform="translate(1017.7,3457.5) scale(0.93,1)" font-size="60" text-anchor="middle" stroke="#000" stroke-width="1.3">10</text>
<text class="t" transform="translate(1161.5,3457.5) scale(0.93,1)" font-size="60" text-anchor="middle" stroke="#000" stroke-width="1.3">12</text>
<text class="t" transform="translate(1305.2,3457.5) scale(0.93,1)" font-size="60" text-anchor="middle" stroke="#000" stroke-width="1.3">14</text>
<text class="t" transform="translate(1449.0,3457.5) scale(0.93,1)" font-size="60" text-anchor="middle" stroke="#000" stroke-width="1.3">16</text>
<text class="t" transform="translate(1592.7,3457.5) scale(0.93,1)" font-size="60" text-anchor="middle" stroke="#000" stroke-width="1.3">18</text>
<text class="t" transform="translate(1736.5,3457.5) scale(0.93,1)" font-size="60" text-anchor="middle" stroke="#000" stroke-width="1.3">20</text>
<g shape-rendering="crispEdges">
<rect x="281" y="2162.8" width="145" height="6" fill="#515151"/>
<ellipse cx="353.3" cy="2165.8" rx="15.5" ry="15.8" fill="#515151"/><ellipse cx="348.7" cy="2160.8" rx="9.2" ry="9.7" fill="#9a9a9a"/><ellipse cx="348.7" cy="2160.8" rx="6.1" ry="6.5" fill="#cbcbcb"/><ellipse cx="348.7" cy="2160.8" rx="3.2" ry="3.5" fill="#fcfcfc"/>
</g>
<text class="t" transform="translate(437.6,2187.3) scale(0.985,1)" font-size="64">Loess</text>
<g shape-rendering="crispEdges">
<rect x="281" y="2239.8" width="145" height="6" fill="#ef3e3e"/>
<rect x="339.8" y="2229.3" width="27.0" height="27.0" fill="#fff" stroke="#ef3e3e" stroke-width="3"/><rect x="338.3" y="2240.3" width="30.0" height="17.5" fill="#ef3e3e"/>
</g>
<text class="t" transform="translate(438.6,2264.3) scale(0.976,1)" font-size="64">0.03%</text>
<g shape-rendering="crispEdges">
<rect x="281" y="2317.3" width="145" height="6" fill="#37ad6b"/>
<path d="M353.3 2301.7L371.9 2320.3L353.3 2338.9L334.7 2320.3Z" fill="#fff" stroke="#37ad6b" stroke-width="3"/><path d="M353.3 2299.6L374.0 2320.3L372.0 2322.3L334.6 2322.3L332.6 2320.3Z" fill="#37ad6b"/>
</g>
<text class="t" transform="translate(438.6,2341.8) scale(0.976,1)" font-size="64">0.01%</text>
<g shape-rendering="crispEdges">
<rect x="281" y="2394.5" width="145" height="6" fill="#1a6fdf"/>
<path d="M353.3 2377.2L370.7 2407.8L335.9 2407.8Z" fill="#fff" stroke="#1a6fdf" stroke-width="3" stroke-linejoin="miter"/><path d="M351.8 2376.2L354.3 2374.7L373.5 2409.3L351.8 2409.3Z" fill="#1a6fdf"/>
</g>
<text class="t" transform="translate(438.6,2419.0) scale(0.976,1)" font-size="64">0.005%</text>
<g shape-rendering="crispEdges">
<rect x="281" y="2471.6" width="145" height="6" fill="#b077de"/>
<circle cx="353.3" cy="2474.6" r="15.20" fill="#fff" stroke="#b077de" stroke-width="3"/><path d="M353.8 2457.9A16.7 16.7 0 0 0 353.8 2491.3Z" fill="#b077de"/>
</g>
<text class="t" transform="translate(438.6,2496.1) scale(0.976,1)" font-size="64">0.003%</text>
<text class="t" transform="translate(72.9,3012.8) rotate(-90)" font-size="70" textLength="643" lengthAdjust="spacingAndGlyphs" stroke="#000" stroke-width="0.6">Disintegration rate (%)</text>
<text class="t" transform="translate(805.5,3572.7) scale(0.97,1)" font-size="70" stroke="#000" stroke-width="0.8">Time</text>
<text class="c" x="911.5" y="3572" font-size="62.5" font-weight="400" stroke="#000" stroke-width="0.6">（</text>
<text class="c" x="975.5" y="3571.6" font-size="56.5" stroke="#000" stroke-width="0.6">min</text>
<text class="c" x="1079.8" y="3572" font-size="62.5" font-weight="400" stroke="#000" stroke-width="0.6">）</text>
<text class="t" x="809.9" y="3766.5" font-size="68.7" font-weight="bold" textLength="92.6" lengthAdjust="spacingAndGlyphs">(b)</text>
</g>
</svg></body></html>
